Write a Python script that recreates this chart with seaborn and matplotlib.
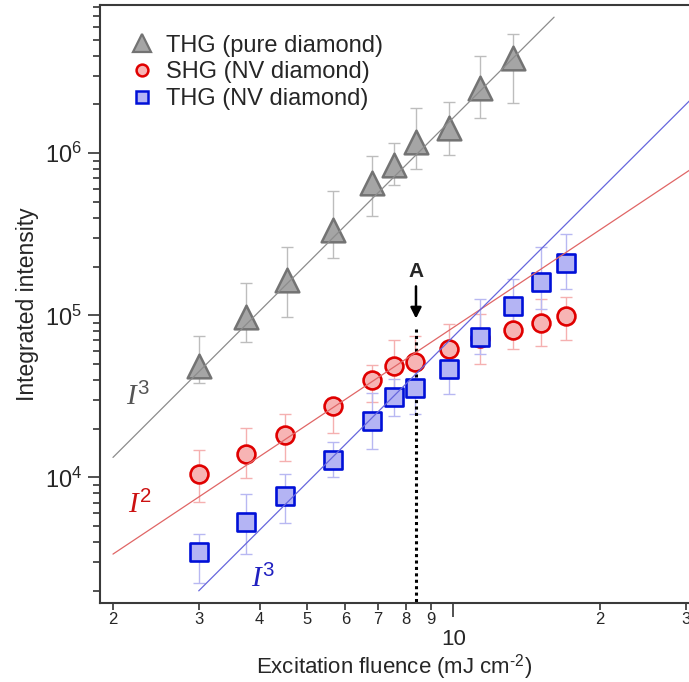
import numpy as np
import seaborn as sns
import matplotlib.pyplot as plt
from matplotlib.lines import Line2D
from matplotlib.ticker import FixedLocator, FixedFormatter, LogLocator, NullFormatter

# THG from pure diamond
x_pure = [3.0, 3.76, 4.55, 5.67, 6.80, 7.57, 8.38, 9.81, 11.35, 13.24]
thg_pure = [49000, 98000, 165000, 337000, 653000, 847000, 1.18e6, 1.43e6, 2.52e6, 3.86e6]
thg_pure_hi = [75000, 159000, 265000, 588000, 962000, 1.15e6, 1.9e6, 2.08e6, 3.95e6, 5.43e6]
thg_pure_lo = [38000, 68000, 97000, 226000, 410000, 637000, 797000, 977000, 1.64e6, 2.05e6]

# SHG and THG from NV diamond
x_nv = [3.0, 3.76, 4.52, 5.67, 6.81, 7.55, 8.36, 9.79, 11.35, 13.24, 15.14, 17.05]
shg_nv = [10500, 14000, 18400, 27700, 39700, 48400, 51500, 61600, 72500, 80800, 89700, 99100]
shg_nv_hi = [14800, 20200, 24500, 31000, 49600, 70800, 74600, 88900, 102000, 105000, 126000, 129000]
shg_nv_lo = [7050, 9900, 12600, 18900, 29200, 33000, 35600, 42700, 50300, 61700, 64800, 70000]
thg_nv = [3460, 5300, 7640, 12850, 22300, 31300, 35600, 46400, 73600, 114000, 161000, 209000]
thg_nv_hi = [4480, 7900, 10500, 16500, 33000, 40700, 51300, 66000, 127000, 168000, 263000, 316000]
thg_nv_lo = [2230, 3380, 5220, 10000, 15000, 24100, 24700, 32500, 58000, 77600, 110000, 145000]

# power-law guide lines (end points)
fit_pure_x, fit_pure_y = [2.0, 16.1], [13300, 6.9e6]
fit_shg_x, fit_shg_y = [2.0, 31.0], [3370, 8.09e5]
fit_thg_x, fit_thg_y = [3.0, 31.0], [2000, 2.2e6]

x_minor_ticks = [2, 3, 4, 5, 6, 7, 8, 9, 20, 30]
x_minor_labels = ['2', '3', '4', '5', '6', '7', '8', '9', '2', '3']
x_major_ticks = [10]
x_major_labels = ['10']

marker_x = 8.38

sns.set_style("ticks")
plt.rcParams['font.family'] = ['Liberation Sans', 'DejaVu Sans']
plt.rcParams['mathtext.fontset'] = 'custom'
plt.rcParams['mathtext.rm'] = 'Liberation Sans'
plt.rcParams['mathtext.it'] = 'Liberation Serif:italic'
plt.rcParams['mathtext.bf'] = 'Liberation Sans:bold'

fig = plt.figure(figsize=(6.89, 6.82), dpi=100)
ax = fig.add_axes([100 / 689, 1 - 602.7 / 682, 589 / 689, 597.7 / 682])
ax.set_xscale('log')
ax.set_yscale('log')

def err(y, hi, lo):
    y = np.array(y)
    return [y - np.array(lo), np.array(hi) - y]

ax.errorbar(x_pure, thg_pure, yerr=err(thg_pure, thg_pure_hi, thg_pure_lo), fmt='none',
            ecolor='#bdbdbd', elinewidth=1.0, capsize=4.3, capthick=1.0, zorder=1)
ax.errorbar(x_nv, shg_nv, yerr=err(shg_nv, shg_nv_hi, shg_nv_lo), fmt='none',
            ecolor='#f5b0b0', elinewidth=1.0, capsize=4.3, capthick=1.0, zorder=1)
ax.errorbar(x_nv, thg_nv, yerr=err(thg_nv, thg_nv_hi, thg_nv_lo), fmt='none',
            ecolor='#b8b8f2', elinewidth=1.0, capsize=4.3, capthick=1.0, zorder=1)

sns.scatterplot(x=x_pure, y=thg_pure, marker='^', s=290, color='#a5a5a5',
                edgecolor='#737373', linewidth=1.8, ax=ax, zorder=3, legend=False)
sns.scatterplot(x=x_nv, y=shg_nv, marker='o', s=165, color='#f7b4b4',
                edgecolor='#e00000', linewidth=1.9, ax=ax, zorder=3, legend=False)
sns.scatterplot(x=x_nv, y=thg_nv, marker='s', s=165, color='#b4b4f4',
                edgecolor='#0010d8', linewidth=1.9, ax=ax, zorder=3, legend=False)

ax.plot(fit_pure_x, fit_pure_y, color='#8c8c8c', lw=0.9, zorder=4)
ax.plot(fit_shg_x, fit_shg_y, color='#e06666', lw=0.9, zorder=4)
ax.plot(fit_thg_x, fit_thg_y, color='#6666dd', lw=0.9, zorder=4)

ax.text(2.13, 28100, r'$\mathit{I}^{\mathit{3}}$', color='#555555', fontsize=21, ha='left', va='baseline')
ax.text(2.15, 6080, r'$\mathit{I}^{\mathit{2}}$', color='#cc1111', fontsize=21, ha='left', va='baseline')
ax.text(3.84, 2120, r'$\mathit{I}^{\mathit{3}}$', color='#2020c0', fontsize=21, ha='left', va='baseline')

# marker A
ax.plot([marker_x, marker_x], [82700, 1000], color='black', lw=2.2, ls=(0, (1, 1.1)), zorder=2)
ax.annotate('', xy=(marker_x, 91800), xytext=(marker_x, 157000),
            arrowprops=dict(arrowstyle='-|>', lw=1.8, color='black', mutation_scale=16))
ax.text(marker_x, 173000, 'A', fontsize=15, fontweight='bold', ha='center', va='baseline')

ax.set_xlim(1.881, 30.47)
ax.set_ylim(1690, 8.2e6)

ax.xaxis.set_major_locator(FixedLocator(x_major_ticks))
ax.xaxis.set_major_formatter(FixedFormatter(x_major_labels))
ax.xaxis.set_minor_locator(FixedLocator(x_minor_ticks))
ax.xaxis.set_minor_formatter(FixedFormatter(x_minor_labels))
ax.yaxis.set_major_locator(LogLocator(base=10))
ax.yaxis.set_minor_locator(LogLocator(base=10, subs=np.arange(2, 10)))
ax.yaxis.set_minor_formatter(NullFormatter())

ax.tick_params(axis='x', which='major', direction='out', length=10, width=1.2, labelsize=16, pad=9, color='#333333')
ax.tick_params(axis='x', which='minor', direction='out', length=5, width=1.2, labelsize=12, pad=2, color='#333333')
ax.tick_params(axis='y', which='major', direction='out', length=9, width=1.2, labelsize=17, pad=4, color='#333333')
ax.tick_params(axis='y', which='minor', direction='out', length=5, width=1.2, color='#333333')

for side in ['left', 'bottom', 'top']:
    ax.spines[side].set_linewidth(1.5)
    ax.spines[side].set_color('#3a3a3a')
ax.spines['right'].set_visible(False)

ax.set_xlabel(r'Excitation fluence (mJ cm$^{\text{-2}}$)', fontsize=16, labelpad=2)
ax.set_ylabel('Integrated intensity', fontsize=16.5, labelpad=4)

handles = [
    Line2D([], [], ls='none', marker='^', ms=13, mfc='#a5a5a5', mec='#737373', mew=1.6),
    Line2D([], [], ls='none', marker='o', ms=8.5, mfc='#f7b4b4', mec='#e00000', mew=1.8),
    Line2D([], [], ls='none', marker='s', ms=8, mfc='#b4b4f4', mec='#0010d8', mew=1.8),
]
labels = ['THG (pure diamond)', 'SHG (NV diamond)', 'THG (NV diamond)']
ax.legend(handles, labels, loc='upper left', bbox_to_anchor=(0.022, 0.978), frameon=False,
          fontsize=17, labelspacing=0.2, handletextpad=0.45, handlelength=1.1, borderpad=0.2)

fig.savefig('out.png', dpi=100)
